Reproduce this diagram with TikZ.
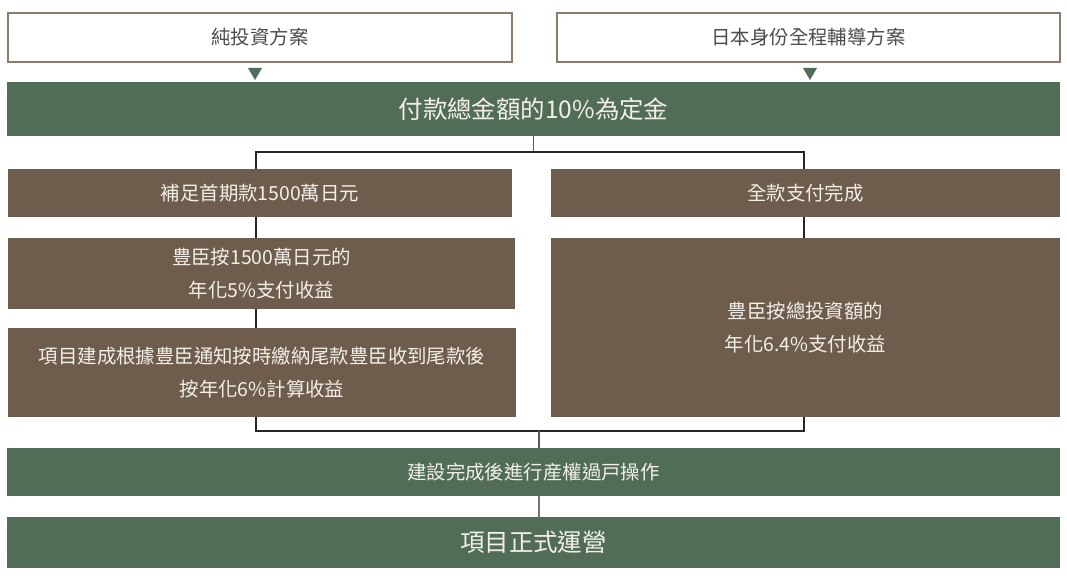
\documentclass[tikz,border=0pt]{standalone}
\usepackage{fontspec}
\setmainfont{Noto Sans CJK TC}
\usepackage{xcolor}
\usetikzlibrary{positioning, backgrounds, calc}

\definecolor{plangreen}{HTML}{516D58}
\definecolor{planbrown}{HTML}{6E5D4C}
\definecolor{planframe}{HTML}{8B7B6B}
\definecolor{plantext}{HTML}{F3EFE9}

\begin{document}
\begin{tikzpicture}[
  x=0.025cm, y=-0.025cm,
  font=\fontsize{13.8}{23.4}\selectfont,
  planbox/.style={draw=planframe, line width=1.1pt, fill=white, text=black!70,
                  minimum width=12.6cm, minimum height=1.225cm, inner sep=0pt},
  stagebar/.style={fill=plangreen, text=plantext, minimum width=26.325cm,
                   minimum height=1.2cm, inner sep=0pt, align=center},
  paybox/.style={fill=planbrown, text=plantext, minimum height=1.2cm,
                 inner sep=0pt, align=center},
  bigtext/.style={font=\fontsize{17.4}{22}\selectfont},
  link/.style={draw=black!85, line width=0.8pt}
]
\useasboundingbox (0,0) rectangle (1067,583);

% the two plans
\node[planbox] (pure) at (260,37.5) {純投資方案};
\node[planbox, minimum width=12.575cm] (visa) at (808.5,37.5) {日本身份全程輔導方案};
\fill[plangreen] (255,80) -- (248,68) -- (262,68) -- cycle;
\fill[plangreen] (810,80) -- (803,68) -- (817,68) -- cycle;

\node[stagebar, bigtext, minimum height=1.35cm] (deposit) at (533.5,109) {付款總金額的10\%為定金};

% left branch
\node[paybox, minimum width=12.6cm] (b1) at (260,193) {補足首期款1500萬日元};
\node[paybox, minimum width=12.675cm, minimum height=1.775cm] (b2) at (261.5,273.5)
  {豊臣按1500萬日元的\\年化5\%支付收益};
\node[paybox, minimum width=12.7cm, minimum height=2.225cm] (b3) at (262,372.5)
  {項目建成根據豊臣通知按時繳納尾款豊臣收到尾款後\\按年化6\%計算收益};

% right branch
\node[paybox, minimum width=12.725cm] (r1) at (805.5,193) {全款支付完成};
\node[paybox, minimum width=12.725cm, minimum height=4.475cm] (r2) at (805.5,327.5)
  {豊臣按總投資額的\\年化6.4\%支付收益};

\node[stagebar] (transfer) at (533.5,472) {建設完成後進行産權過戸操作};
\node[stagebar, bigtext, minimum height=1.275cm] (open) at (533.5,542.5) {項目正式運營};

\coordinate (brkTL) at (256,152);
\coordinate (brkBR) at (804,431);
\coordinate (brkB) at (539,431);

\begin{scope}[on background layer]
\draw[link, draw=black!65] (deposit.south) -- (deposit.south |- brkTL);
\draw[link] (brkTL) rectangle (brkBR);
\draw[link, draw=black!65] (brkB) -- (brkB |- transfer.north);
\draw[link, draw=black!55] (transfer.south -| brkB) -- (open.north -| brkB);
\end{scope}
\end{tikzpicture}
\end{document}
